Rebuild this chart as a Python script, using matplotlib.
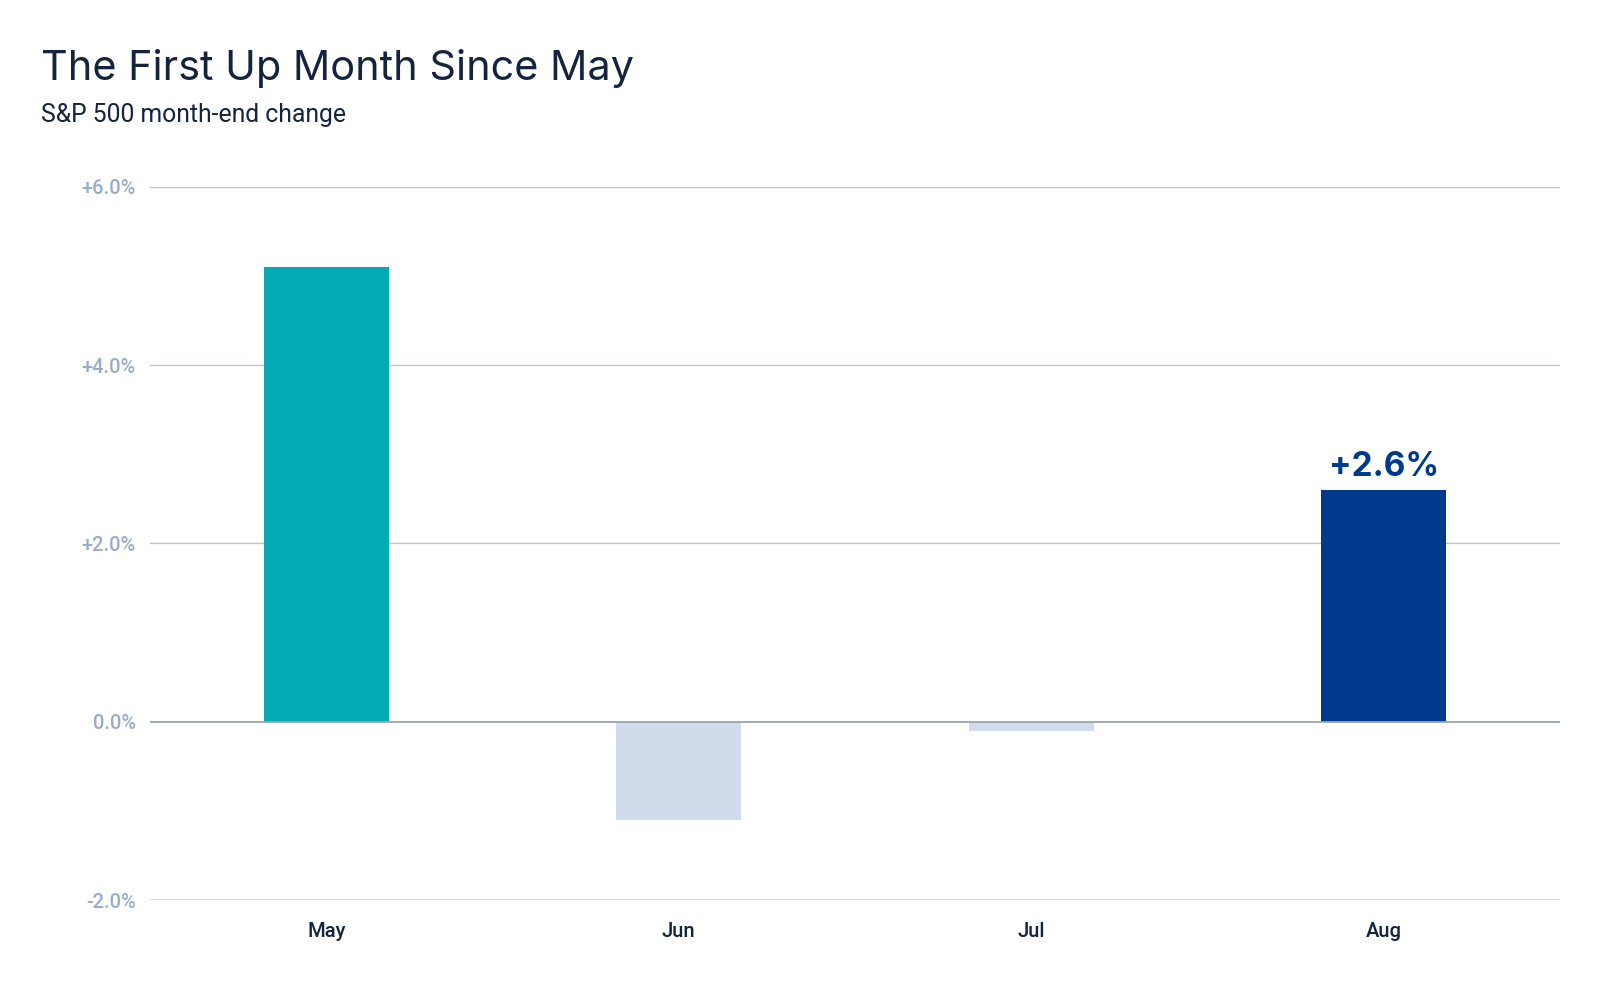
import matplotlib
matplotlib.use("Agg")
import matplotlib.pyplot as plt

months = ["May", "Jun", "Jul", "Aug"]
changes = [5.1, -1.1, -0.1, 2.6]
bar_colors = ["#00ABB6", "#D0DCEB", "#D0DCEB", "#003A8C"]
y_ticks = [-2.0, 0.0, 2.0, 4.0, 6.0]
y_tick_labels = ["-2.0%", "0.0%", "+2.0%", "+4.0%", "+6.0%"]
title = "The First Up Month Since May"
subtitle = "S&P 500 month-end change"
highlight_label = "+2.6%"

fig = plt.figure(figsize=(16, 10), dpi=100)
ax = fig.add_axes([0.09375, 0.10, 0.975 - 0.09375, 0.8133 - 0.10])

x = list(range(len(months)))
bars = ax.bar(x, changes, width=0.355, color=bar_colors, zorder=3)

ax.set_xlim(-0.5, 3.5)
ax.set_ylim(-2, 6)
ax.set_yticks(y_ticks)
ax.set_yticklabels(y_tick_labels, family="Roboto", fontsize=14.5, color="#9AADC8",
                   fontweight="medium")
ax.set_xticks(x)
ax.set_xticklabels(months, family="Roboto", fontsize=14.5, color="#14243C", fontweight="medium")
ax.tick_params(axis="both", length=0)
ax.tick_params(axis="y", pad=10)
ax.tick_params(axis="x", pad=16)

for s in ax.spines.values():
    s.set_visible(False)

for yv in y_ticks:
    if yv == 0:
        c, lw, z = "#98A4B4", 1.3, 4
    elif yv == -2:
        c, lw, z = "#D0DCE6", 1.6, 1
    else:
        c, lw, z = "#B8C4D6", 1.0, 1
    ax.axhline(yv, color=c, lw=lw, zorder=z)

ax.text(x[3], changes[3] + 0.08, highlight_label, ha="center", va="bottom",
        family="Inter", fontweight="bold", fontsize=24, color="#003A8C")

fig.text(41 / 1600, 1 - 80 / 1000, title, family="Inter", fontsize=29.8,
         color="#14243C", ha="left", va="baseline")
fig.text(41 / 1600, 1 - 122 / 1000, subtitle, family="Roboto", fontsize=17.8,
         color="#14243C", ha="left", va="baseline")

fig.savefig("out.png", dpi=100, facecolor="white")
